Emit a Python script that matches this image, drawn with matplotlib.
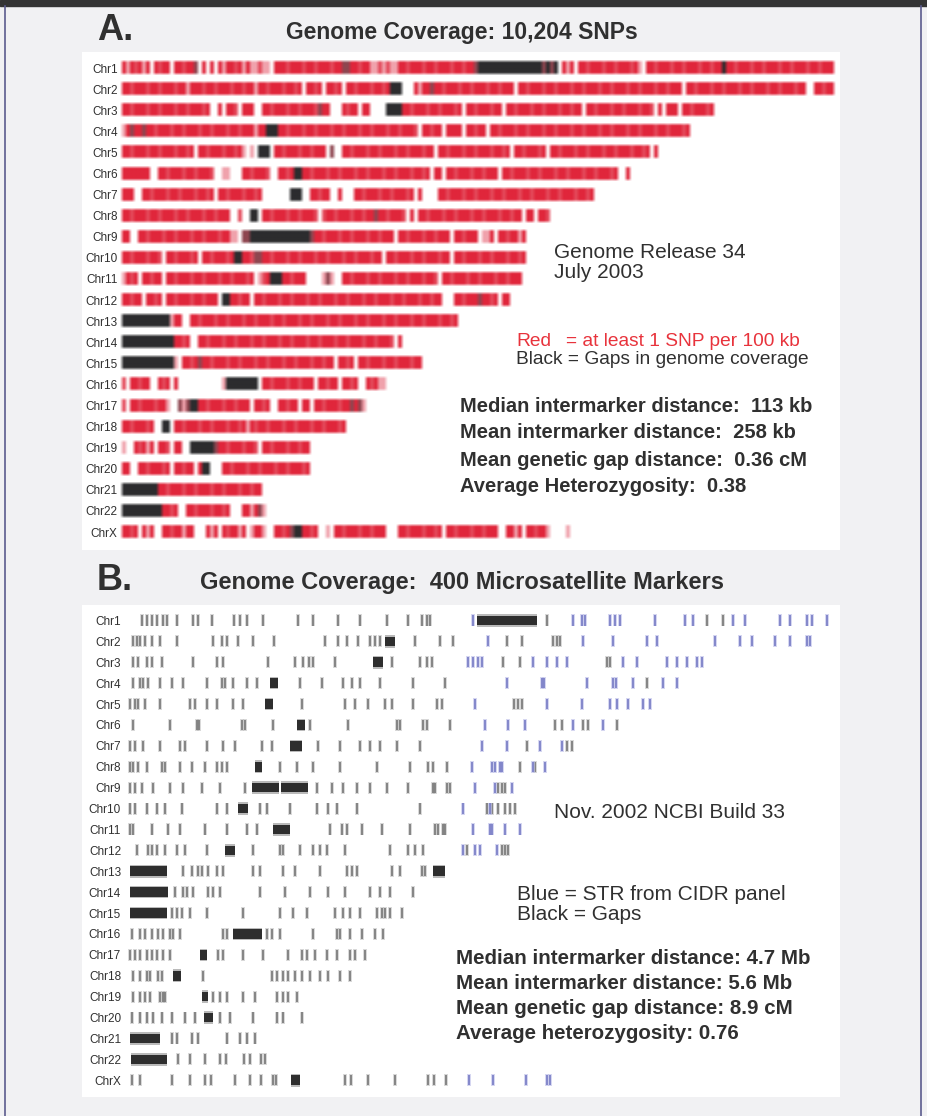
import numpy as np
import matplotlib.pyplot as plt
from matplotlib.colors import to_rgb
from matplotlib.lines import Line2D
from matplotlib.patches import Rectangle

plt.rcParams['font.family'] = ['Liberation Sans', 'DejaVu Sans']

W, H = 927, 1116

chrom_labels = ['Chr%d' % i for i in range(1, 23)] + ['ChrX']

# Panel A: SNP coverage, one character per bin along each chromosome.
# R = dense, r = medium, p = sparse, ' ' = no SNP, g = thin gap, K = gap
snp_tracks = [
    "RpRrRpR RrRR RRrRRg R R RpRRrRpRpprpp R"
    "RRrRRRrRRrRRRrRRggRRrRRpprprppRRrRRRrRRrRRRrRRrRRg"
    "KKKKKKKKKKKKKKKKgKgK RpR RRrRRRrRRrRRRrRp RRrRRRrRRrRRRrRRrRR"
    "KRRrRRRrRRrRRRrRRrRRRrRRrRRR",
    "RRrRRRrRRrRRRrRRpRRRrRRrRRRrRRrRRpRRrRRRrRRrR RRrR RRrR RRrRRRrRRrR"
    "KKK   RpRRgRRrRRRrRRrRRRrRRrRRR RRrRRRrRRrRRRrRRrRRRrRRrRRRrRRrRRRrRRrRRR"
    " RRrRRRrRRrRRRrRRrRRRrRRrRRRrRR  RRrRR",
    "RRrRRRrRRrRRRrRRrRRRrR  R RRr RRR  RRrRRRrRRrRRRrgRR   RrRR RR    KKKK"
    "RRrRRRrRRrRRRrR RRrRRRrRR RRrRRRrRRrRRRrRRrRR RRrRRRrRRrRRRrRRr R RRR RRrRRRrR",
    "pRgRRgRRrRRRrRRrRRRrRRrRRRrRRrRRRpRRKKKRRrRRRrRRrRRRrRRrRRRrRRrRRRrRRrRRRr"
    " RRrRR RRRR RRrRR RRrRRRrRRrRRRrRRrRRRrRRrRRRrRRrRRRrRRrRRRrRRrRRRrR",
    "RRrRRRrRRrRRRrRRrR RRrRRRrRRrRp p KKK RRrRRRrRRrRRR g  RRrRRRrRRrRRRrRRrRRRrRR"
    " RRrRRRrRRrRRRrRRrR RRrRRRrR RRrRRRrRRrRRRrRRrRRRrRRrR R",
    "RRRRRRR  RRrRRRrRRrRRRr  pp   RRrRRRr  RRrRKKRRrRRRrRRrRRRrRRrRRRrRRrRRRrRRrR"
    " RR RRrRRRrRRrRRR RRrRRRrRRrRRRrRRrRRRrRRrRRRrR  R",
    "RRR  RRrRRRrRRrRRRrRRrR RRrRRRrRRrR       KKK  RRrRR  R   RRrRRRrRRrRRRrR R    "
    "RRrRRRrRRrRRRrRRrRRRrRRrRRRrRRrRRRrRRrR",
    "RRrRRRrRRrRRRrRRrRRRrRRrRRR  r  KK RRrRRRrRRrRRRr rRRrRRRrRRrRRgRRrRRRr R "
    "RRrRRRrRRrRRRrRRrRRRrRRrRR RR RRr",
    "RR  RRrRRRrRRrRRRrRRrRRRrRRpp ggKKKKKKKKKKKKKKKgRRrRRRrRRrRRRrRRrRRR "
    "RRrRRRrRRrRRR RRrRRR ppR RRrRRpR",
    "RRrRRRrRRr RRrRRRrR RRrRRRrRKKRRrggRRrRRRrRRrRRRrRRrRRRrRRrRRRrRR "
    "RRrRRRrRRrRRRrRR RRrRRRrRRrRRRrRRrR",
    "pRrR RRrRR RRrRRRrRRrRRRrRRrRRRrR prRKKKRRrRRR    pgp  "
    "RRrRRRrRRrRRRrRRrRRRrRRr RRrRRRrRRrRRRrRRrRRR",
    "RRrRR RRrR RRrRRRrRRrRRR KKRRrRR "
    "RRrRRRrRRrRRRrRRrRRRrRRrRRRrRRrRRRrRRrRRRrRRrRR   RRrRRRgRRrR RR",
    "KKKKKKKKKKKKpRR  RRrRRRrRRrRRRrRRrRRRrRRrRRRrRRrRRRrRRrRRRrRRrRRRrRRrRRRrRRrRRRrRRrR",
    "KKKKKKKKKKKKKRRrR  RRrRRRrRRrRRRrRRrRRRrRRrRRRrRRrRRRrRRrRRRrRRrRRRr R",
    "KKKKKKKKKKKKKp RRrRgRRrRRRrRRrRRRrRRrRRRrRRrRRRrRRrRR RRrR RRrRRRrRRrRRRrRR",
    "r RRrRR  RrR R           pKKKKKKKK RRrRRRrRRrRRR RRrRR RRrR  RrRpp",
    "r RRrRRRrRRp  gpgKKRRrRRRrRRrRRR RRrR  RRrRR RR RRrRRRrRRgRgp",
    "RRrRRRrR  KK RRrRRRrRRrRRRrRRrRpRrRRrRRRrRRrRRRrRRrRRRrR",
    "p  RrRpR RRr RR  KKKKKKgRRrRRRrRRr RRrRRRrRRrRR",
    "RR  RRrRRRrR RRrRR RKK   RRrRRRrRRrRRRrRRrRRRrR",
    "KKKKKKKKKRRrRRRrRRrRRRrRRrRRRrRRrRR",
    "KKKKKKKKKKRRrR  RRrRRRrRRrR   RRpRgp",
    "RRrR RpR  RRrRRpRR   RpR RrRRpR pRRp  RRrRgKKRRrR  p RRrRRRrRRrRRR   "
    "RRrRRRrRRrR RRrRRRrRRrRRR  RRpR RRrRRp    p",
]

level_colors = {'R': '#e0263b', 'r': '#e44a5b', 'p': '#f0a2ac',
                'g': '#8e4650', 'K': '#2c2c2e', ' ': '#ffffff'}

# Panel B: microsatellite marker positions (pixel offsets along each track)
str_gray = [
    [13, 18, 23, 28, 34, 38, 48, 64, 69, 83, 105, 111, 118, 134, 169, 184, 209,
     231, 258, 279, 293, 298, 301, 418, 578, 594],
    [4, 8, 11, 16, 23, 31, 48, 84, 93, 98, 109, 124, 145, 196, 209, 218, 229,
     241, 246, 251, 286, 311, 324, 378, 393, 424, 428, 431],
    [4, 9, 18, 23, 33, 64, 88, 94, 139, 166, 174, 180, 184, 206, 263, 291, 298,
     303, 374, 391, 478, 481],
    [4, 11, 14, 19, 31, 43, 54, 78, 93, 96, 104, 118, 128, 171, 193, 214, 223,
     231, 251, 284, 316, 518],
    [1, 6, 9, 16, 31, 61, 66, 78, 88, 104, 114, 173, 216, 226, 239, 256, 263,
     284, 308, 313, 385, 389, 393],
    [4, 41, 68, 70, 113, 116, 144, 181, 219, 268, 271, 294, 298, 321, 426, 433,
     454, 459, 488],
    [1, 6, 14, 31, 51, 56, 78, 94, 106, 133, 143, 189, 211, 231, 241, 251, 268,
     291, 398, 438, 443],
    [1, 4, 9, 18, 33, 36, 51, 63, 76, 88, 93, 98, 151, 168, 184, 211, 248, 281,
     299, 304, 318, 391, 406],
    [1, 6, 13, 24, 41, 54, 73, 91, 116, 188, 203, 214, 228, 241, 258, 279, 304,
     306, 318, 321, 369, 373, 376],
    [1, 6, 18, 28, 36, 53, 88, 98, 131, 138, 161, 188, 199, 208, 228, 291, 358,
     363, 369, 376, 381, 386],
    [1, 4, 23, 39, 51, 76, 98, 118, 128, 201, 213, 218, 233, 253, 281, 306, 309,
     314, 316],
    [8, 19, 23, 28, 36, 48, 56, 78, 124, 151, 154, 171, 184, 191, 198, 216, 261,
     279, 286, 294, 338, 373, 376, 379],
    [54, 63, 69, 73, 79, 88, 94, 124, 131, 154, 166, 191, 218, 223, 228, 263,
     271, 293, 296],
    [46, 54, 58, 64, 79, 84, 91, 131, 156, 181, 199, 216, 241, 251, 261, 284],
    [43, 48, 53, 61, 78, 114, 151, 164, 178, 206, 214, 221, 231, 248, 253, 256,
     261, 273],
    [3, 11, 16, 23, 29, 34, 41, 44, 51, 94, 98, 138, 143, 151, 184, 208, 211,
     221, 233, 246, 254],
    [1, 6, 11, 18, 23, 28, 34, 41, 89, 94, 114, 134, 159, 173, 178, 186, 198,
     208, 221, 226, 236],
    [4, 11, 18, 21, 29, 33, 74, 143, 148, 154, 159, 166, 173, 181, 191, 199,
     211, 221],
    [4, 11, 16, 21, 31, 34, 36, 84, 91, 98, 114, 126, 148, 154, 159, 168],
    [3, 11, 18, 24, 33, 43, 56, 66, 91, 101, 124, 148, 154, 173],
    [43, 48, 63, 69, 98, 111, 118, 126],
    [49, 61, 76, 91, 97, 115, 121, 132, 136],
    [3, 11, 43, 61, 76, 82, 106, 121, 132, 144, 147, 216, 222, 239, 266, 299,
     305, 317],
]
str_blue = [
    [344, 444, 453, 456, 481, 486, 491, 526, 556, 564, 604, 616, 651, 661, 678,
     683, 698],
    [359, 454, 484, 518, 528, 586, 611, 623, 646, 661, 678, 681],
    [339, 344, 349, 353, 404, 418, 428, 438, 494, 508, 538, 548, 558, 568, 573],
    [378, 413, 415, 458, 484, 487, 504, 534, 548],
    [346, 418, 453, 481, 488, 499, 514, 521],
    [356, 379, 396, 444, 474],
    [353, 378, 411, 433],
    [343, 363, 366, 371, 373, 404, 416],
    [346, 366, 383],
    [334, 361],
    [344, 361, 363, 376, 391],
    [334, 346, 351, 368],
    [], [], [], [], [], [], [], [], [], [],
    [340, 364, 397, 418, 421],
]
gaps_b = [
    [(348, 408)], [(256, 266)], [(244, 254)], [(141, 149)], [(136, 144)],
    [(168, 176)], [(161, 173)], [(126, 133)], [(123, 150), (152, 179)],
    [(109, 119)], [(144, 161)], [(96, 106)], [(1, 38), (304, 316)], [(1, 39)],
    [(1, 38)], [(104, 133)], [(71, 78)], [(44, 52)], [(73, 79)], [(75, 84)],
    [(1, 31)], [(2, 38)], [(162, 171)],
]

stats_a = ['Median intermarker distance:  113 kb',
           'Mean intermarker distance:  258 kb',
           'Mean genetic gap distance:  0.36 cM',
           'Average Heterozygosity:  0.38']
stats_b = ['Median intermarker distance: 4.7 Mb',
           'Mean intermarker distance: 5.6 Mb',
           'Mean genetic gap distance: 8.9 cM',
           'Average heterozygosity: 0.76']

TXT = '#303030'


def px_axes(fig, x0, y0, x1, y1):
    ax = fig.add_axes([x0 / W, 1 - y1 / H, (x1 - x0) / W, (y1 - y0) / H])
    ax.set_facecolor('white')
    for s in ax.spines.values():
        s.set_visible(False)
    ax.set_xticks([])
    return ax


def ftext(x, y, s, **kw):
    kw.setdefault('color', TXT)
    kw.setdefault('va', 'center')
    fig.text(x / W, 1 - y / H, s, **kw)


fig = plt.figure(figsize=(W / 100, H / 100), dpi=100)
fig.patch.set_facecolor('#f1f1f3')

# frame: dark band on top, thin side rules
fig.patches.append(Rectangle((0, 1 - 6 / H), 1, 6 / H, transform=fig.transFigure,
                             color='#343434', zorder=0))
for xs in (5, 921):
    fig.lines.append(Line2D([xs / W, xs / W], [0, 1 - 6 / H], transform=fig.transFigure,
                            color='#5c5c8e', lw=1.2))

# ---- panel A ----
axA = px_axes(fig, 82, 52, 840, 550)
half = 0.43
white = np.ones(3)
for i, track in enumerate(snp_tracks):
    row = np.array([to_rgb(level_colors[c]) for c in track])
    row = np.vstack([white, row, white])
    img = np.stack([np.ones_like(row), row, row, row, row, np.ones_like(row)])
    axA.imshow(img, extent=(-1, len(track) + 1, i + half, i - half),
               aspect='auto', interpolation='bilinear')
axA.set_xlim(-10, 179.5)
axA.set_ylim(22.85, -0.76)
axA.set_yticks(range(23))
axA.set_yticklabels(chrom_labels, fontsize=8.5, color=TXT)
axA.tick_params(axis='y', length=0, pad=-25.6)

# ---- panel B ----
axB = px_axes(fig, 82, 605, 840, 1097)
hb = 6 / 20.9
for i in range(23):
    spans = [(s, e - s) for s, e in gaps_b[i]]
    axB.broken_barh(spans, (i - hb * 1.05, 2.1 * hb), facecolors='#8c8c8c', lw=0, alpha=0.6)
    axB.broken_barh(spans, (i - hb * 0.8, 1.6 * hb), facecolors='#2e2e2e', lw=0)
    if str_gray[i]:
        axB.vlines(str_gray[i], i - hb, i + hb, color='#bdbdbd', lw=2.8, alpha=0.6)
        axB.vlines(str_gray[i], i - hb * 0.85, i + hb * 0.85, color='#6e6e6e', lw=1.1)
    if str_blue[i]:
        axB.vlines(str_blue[i], i - hb, i + hb, color='#c2c4ea', lw=2.8, alpha=0.7)
        axB.vlines(str_blue[i], i - hb * 0.85, i + hb * 0.85, color='#6e72c0', lw=1.1)
axB.set_xlim(-47, 711)
axB.set_ylim(22.8, -0.74)
axB.set_yticks(range(23))
axB.set_yticklabels(chrom_labels, fontsize=8.5, color=TXT)
axB.tick_params(axis='y', length=0, pad=-28.1)

# ---- headings and notes ----
ftext(97, 30, 'A.', fontsize=26, fontweight='bold')
ftext(462, 32, 'Genome Coverage: 10,204 SNPs', fontsize=16.5, fontweight='bold', ha='center')
ftext(97, 581, 'B.', fontsize=26, fontweight='bold')
ftext(462, 582, 'Genome Coverage:  400 Microsatellite Markers', fontsize=17,
      fontweight='bold', ha='center')

ftext(554, 252, 'Genome Release 34', fontsize=15)
ftext(554, 273, 'July 2003', fontsize=15)
ftext(516, 342, 'Red', fontsize=13.8, color='#e8333c')
ftext(566, 342, '= at least 1 SNP per 100 kb', fontsize=13.8, color='#e8333c')
ftext(516, 360, 'Black = Gaps in genome coverage', fontsize=13.8)
for k, s in enumerate(stats_a):
    ftext(460, 406 + 27 * k, s, fontsize=14.5, fontweight='bold')

ftext(554, 812, 'Nov. 2002 NCBI Build 33', fontsize=15)
ftext(517, 895, 'Blue = STR from CIDR panel', fontsize=15)
ftext(517, 915, 'Black = Gaps', fontsize=15)
for k, s in enumerate(stats_b):
    ftext(456, 959 + 24.7 * k, s, fontsize=14.8, fontweight='bold')

fig.savefig('out.png', dpi=100, facecolor=fig.get_facecolor())
